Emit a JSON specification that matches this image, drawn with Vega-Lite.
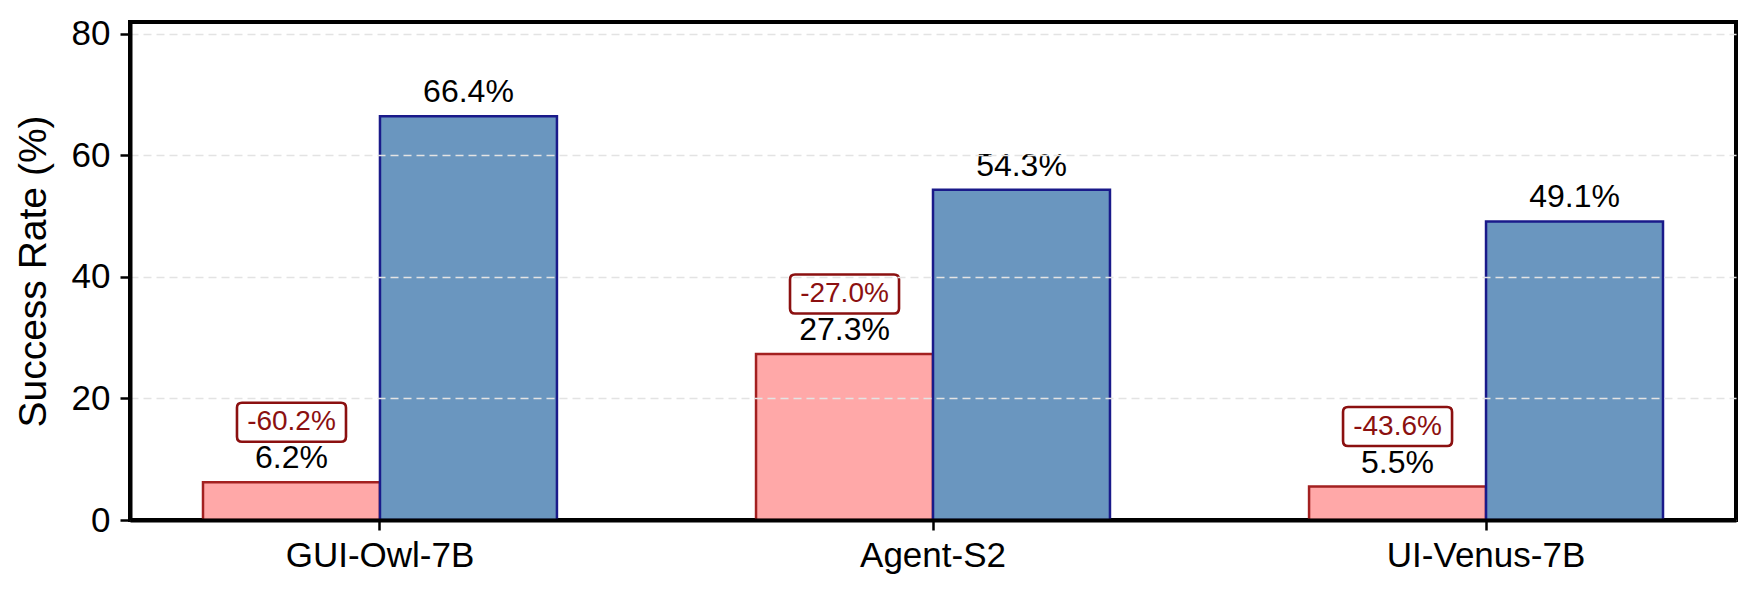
{
  "$schema": "https://vega.github.io/schema/vega-lite/v6.json",
  "width": 1606,
  "height": 498,
  "autosize": {"type": "none"},
  "padding": {"left": 130, "top": 22, "right": 21, "bottom": 74},
  "background": "white",
  "config": {
    "font": "Liberation Sans",
    "view": {"stroke": "black", "strokeWidth": 4}
  },
  "data": {
    "values": [
      {"model": "GUI-Owl-7B", "setting": "Perturbed", "rate": 6.2, "label": "6.2%", "delta": "-60.2%"},
      {"model": "GUI-Owl-7B", "setting": "Original", "rate": 66.4, "label": "66.4%", "delta": ""},
      {"model": "Agent-S2", "setting": "Perturbed", "rate": 27.3, "label": "27.3%", "delta": "-27.0%"},
      {"model": "Agent-S2", "setting": "Original", "rate": 54.3, "label": "54.3%", "delta": ""},
      {"model": "UI-Venus-7B", "setting": "Perturbed", "rate": 5.5, "label": "5.5%", "delta": "-43.6%"},
      {"model": "UI-Venus-7B", "setting": "Original", "rate": 49.1, "label": "49.1%", "delta": ""}
    ]
  },
  "encoding": {
    "x": {
      "field": "model",
      "type": "nominal",
      "sort": ["GUI-Owl-7B", "Agent-S2", "UI-Venus-7B"],
      "scale": {"paddingInner": 0.36, "paddingOuter": 0.132},
      "axis": {
        "title": null,
        "labelAngle": 0,
        "labelFontSize": 35,
        "labelColor": "black",
        "labelPadding": 8,
        "labelLimit": 500,
        "tickSize": 10,
        "tickWidth": 2.5,
        "tickColor": "black",
        "bandPosition": 0.5,
        "domainColor": "black",
        "domainWidth": 4,
        "zindex": 1
      }
    },
    "xOffset": {
      "field": "setting",
      "type": "nominal",
      "scale": {"domain": ["Perturbed", "Original"], "paddingInner": 0, "paddingOuter": 0}
    },
    "y": {
      "field": "rate",
      "type": "quantitative",
      "scale": {"domain": [0, 81.9], "nice": false, "zero": true},
      "axis": {
        "title": "Success Rate (%)",
        "titleFontSize": 39,
        "titleFontWeight": "normal",
        "titleColor": "black",
        "titlePadding": 18,
        "values": [0, 20, 40, 60, 80],
        "labelFontSize": 35,
        "labelColor": "black",
        "labelPadding": 10,
        "tickSize": 10,
        "tickWidth": 2.5,
        "tickColor": "black",
        "domainColor": "black",
        "domainWidth": 4,
        "grid": true,
        "gridColor": "#E3E3E3",
        "gridWidth": 1.6,
        "gridDash": [8, 5],
        "zindex": 1
      }
    }
  },
  "layer": [
    {
      "mark": {"type": "bar", "strokeWidth": 2.5},
      "encoding": {
        "fill": {
          "field": "setting",
          "type": "nominal",
          "scale": {"domain": ["Perturbed", "Original"], "range": ["#FFA8A8", "#6A96BF"]},
          "legend": null
        },
        "stroke": {
          "field": "setting",
          "type": "nominal",
          "scale": {"domain": ["Perturbed", "Original"], "range": ["#A32020", "#1A1A8A"]},
          "legend": null
        }
      }
    },
    {
      "mark": {"type": "text", "baseline": "alphabetic", "dy": -14, "fontSize": 32, "color": "black"},
      "encoding": {"text": {"field": "label", "type": "nominal"}}
    },
    {
      "transform": [{"filter": "datum.delta != ''"}],
      "mark": {
        "type": "point",
        "shape": "M -49.5 -79.5 L 49.5 -79.5 Q 54.5 -79.5 54.5 -74.5 L 54.5 -45.5 Q 54.5 -40.5 49.5 -40.5 L -49.5 -40.5 Q -54.5 -40.5 -54.5 -45.5 L -54.5 -74.5 Q -54.5 -79.5 -49.5 -79.5 Z",
        "size": 4,
        "filled": true,
        "fill": "white",
        "stroke": "#8B1010",
        "strokeWidth": 2.6,
        "opacity": 1,
        "fillOpacity": 1,
        "strokeOpacity": 1
      }
    },
    {
      "transform": [{"filter": "datum.delta != ''"}],
      "mark": {"type": "text", "baseline": "middle", "dy": -60, "fontSize": 28, "color": "#8B1010"},
      "encoding": {"text": {"field": "delta", "type": "nominal"}}
    }
  ]
}
